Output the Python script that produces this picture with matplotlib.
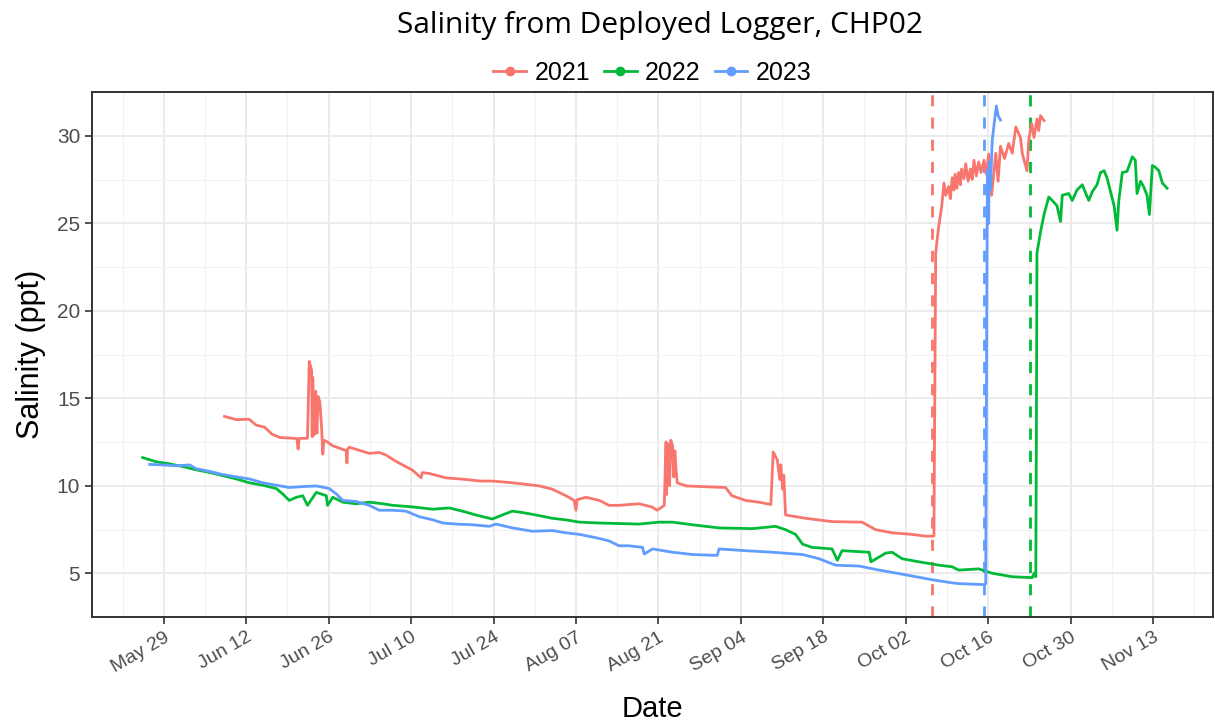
import numpy as np
import pandas as pd
import matplotlib
matplotlib.use("Agg")
from matplotlib import pyplot as plt
from matplotlib.lines import Line2D
from matplotlib import transforms

plt.rcParams['font.family'] = ['Liberation Sans', 'DejaVu Sans']

# days after May 29 (all years drawn on one seasonal axis) and salinity (ppt)
day_2021 = [10.3, 12.3, 14.5, 15.7, 17.1, 18.4, 19.7, 22.6, 22.8, 23.0, 24.4, 24.7, 25.1, 25.2, 25.3, 25.5,
            25.8, 26.0, 26.2, 26.5, 26.8, 27.0, 27.2, 27.8, 28.6, 31.0, 31.1, 31.2, 31.5, 34.9, 36.6, 37.7,
            39.4, 42.2, 43.7, 43.9, 45.1, 47.9, 51.3, 53.6, 55.8, 59.2, 61.5, 63.8, 66.0, 68.3, 69.7, 70.0,
            70.2, 71.7, 74.0, 75.6, 77.3, 80.7, 82.9, 83.8, 85.0, 85.3, 85.4, 85.6, 85.9, 86.1, 86.4, 86.6,
            86.8, 87.0, 87.2, 88.7, 91.4, 95.4, 96.5, 98.8, 101.1, 103.1, 103.5, 104.2, 104.6, 104.8, 105.1,
            105.3, 105.6, 109.0, 113.5, 118.6, 120.9, 123.7, 127.1, 129.4, 130.8, 131.1, 131.6, 132.1, 132.5,
            132.8, 133.3, 133.6, 133.9, 134.2, 134.4, 134.7, 135.0, 135.3, 135.5, 135.9, 136.2, 136.6, 137.0,
            137.3, 137.6, 138.0, 138.4, 138.8, 139.3, 139.7, 140.1, 140.6, 141.3, 141.7, 142.1, 142.8, 143.5,
            144.1, 144.7, 145.5, 145.8, 146.6, 146.9, 147.4, 147.8, 148.3, 148.6, 148.9, 149.5]
sal_2021 = [13.96, 13.78, 13.8, 13.46, 13.35, 12.94, 12.76, 12.7, 12.1, 12.7, 12.72, 17.1, 16.6, 12.8, 16.2, 12.9,
            15.4, 13.0, 15.1, 14.8, 13.3, 11.8, 12.6, 12.5, 12.3, 12.0, 11.3, 12.1, 12.2, 11.85, 11.9, 11.76,
            11.4, 10.9, 10.45, 10.75, 10.7, 10.45, 10.36, 10.27, 10.27, 10.17, 10.08, 9.99, 9.8, 9.43, 9.16, 8.6,
            9.2, 9.34, 9.16, 8.88, 8.88, 8.97, 8.79, 8.6, 8.88, 12.5, 9.5, 12.4, 10.0, 12.6, 12.3, 10.5,
            12.0, 10.9, 10.17, 9.99, 9.95, 9.9, 9.43, 9.16, 9.06, 8.93, 11.93, 11.47, 10.36, 11.2, 9.8,
            10.6, 8.33, 8.14, 7.95, 7.92, 7.49, 7.31, 7.22, 7.12, 7.12, 23.3, 24.8, 25.9, 27.3,
            26.6, 27.1, 26.4, 27.6, 26.9, 27.8, 27.0, 27.9, 27.2, 28.1, 27.55, 28.4, 27.4, 28.1,
            27.5, 28.6, 27.7, 28.5, 27.9, 28.6, 27.8, 28.95, 26.6, 29.0, 27.4, 29.4, 28.7, 29.56,
            29.0, 30.5, 29.9, 29.0, 28.0, 29.76, 30.7, 29.9, 30.96, 30.3, 31.15, 30.87]

day_2022 = [-3.6, -1.3, 1.0, 3.2, 5.5, 7.8, 10.0, 12.3, 14.5, 16.8, 19.1, 20.2, 21.3, 22.5, 23.6, 24.4,
            25.9, 27.6, 27.8, 28.7, 30.4, 32.7, 34.9, 37.2, 38.9, 42.3, 45.7, 48.5, 50.7, 53.0, 55.8, 57.5,
            59.2, 60.9, 63.2, 66.0, 68.3, 70.6, 74.0, 77.3, 80.7, 84.1, 86.4, 89.8, 94.3, 100.0, 103.9, 105.6,
            107.3, 108.5, 110.1, 113.5, 114.4, 115.2, 119.8, 120.1, 122.6, 123.7, 125.4, 128.3, 131.7, 133.9,
            135.0, 138.4, 140.7, 144.1, 147.5, 147.8, 148.1, 148.2, 148.3, 148.9, 149.5, 150.3, 150.9, 151.7,
            152.3, 152.6, 153.7, 154.3, 155.1, 156.0, 156.6, 157.1, 157.7, 158.5, 159.1, 159.7, 160.2, 160.8,
            161.4, 161.9, 162.2, 162.8, 163.6, 164.5, 165.0, 165.3, 165.9, 166.4, 167.0, 167.4, 167.9, 168.4,
            169.0, 169.6, 170.4]
sal_2022 = [11.61, 11.37, 11.25, 11.1, 10.91, 10.76, 10.58, 10.39, 10.17, 10.03, 9.84, 9.53, 9.16, 9.34, 9.43, 8.88,
            9.62, 9.43, 8.88, 9.34, 9.06, 8.97, 9.06, 8.97, 8.88, 8.79, 8.66, 8.73, 8.55, 8.33, 8.1, 8.33,
            8.55, 8.47, 8.33, 8.14, 8.05, 7.92, 7.87, 7.84, 7.81, 7.92, 7.92, 7.77, 7.59, 7.55, 7.68, 7.49,
            7.22, 6.66, 6.48, 6.39, 5.74, 6.29, 6.2, 5.65, 6.15, 6.2, 5.83, 5.65, 5.46, 5.37,
            5.18, 5.25, 5.0, 4.8, 4.75, 5.0, 4.8, 12.8, 23.3, 24.5, 25.5, 26.5, 26.3, 26.0,
            25.1, 26.6, 26.7, 26.3, 26.9, 27.2, 26.7, 26.3, 26.8, 27.2, 27.9, 28.0, 27.6, 26.8,
            26.0, 24.6, 26.3, 27.9, 27.96, 28.8, 28.6, 26.7, 27.4, 27.1, 26.6, 25.5, 28.3, 28.2,
            28.0, 27.3, 27.0]

day_2023 = [-2.4, -0.2, 2.1, 4.4, 5.5, 7.8, 10.0, 12.3, 14.5, 16.8, 19.1, 21.3, 23.6, 25.9, 28.1, 29.3,
            30.4, 32.7, 34.9, 36.6, 38.9, 41.1, 43.4, 45.7, 47.4, 49.6, 52.4, 55.3, 56.4, 59.2, 62.6, 66.0,
            68.3, 70.6, 73.4, 75.6, 77.3, 79.0, 81.3, 81.6, 83.0, 86.4, 89.8, 94.0, 94.3, 98.8, 103.4, 108.5,
            111.3, 114.1, 118.1, 121.5, 126.0, 130.5, 133.9, 135.0, 139.3, 139.6, 139.8, 139.9, 140.1, 140.2,
            140.4, 140.7, 141.0, 141.4, 141.7, 142.1]
sal_2023 = [11.22, 11.19, 11.14, 11.19, 10.97, 10.82, 10.64, 10.51, 10.39, 10.17, 10.03, 9.9, 9.95, 9.99, 9.84, 9.53,
            9.16, 9.1, 8.88, 8.6, 8.6, 8.55, 8.23, 8.05, 7.87, 7.81, 7.77, 7.68, 7.81, 7.59, 7.4, 7.44,
            7.31, 7.22, 7.03, 6.85, 6.57, 6.57, 6.48, 6.1, 6.39, 6.2, 6.07, 6.02, 6.39, 6.29, 6.2, 6.07,
            5.83, 5.46, 5.41, 5.18, 4.91, 4.63, 4.45, 4.41, 4.35, 4.4, 22.5, 28.0, 25.0, 28.5,
            26.9, 29.7, 30.6, 31.7, 31.15, 30.9]

years = ["2021", "2022", "2023"]
event_day = [130.5, 147.1, 139.3]   # dashed lines, one per year
colors = ["#F8766D", "#00BA38", "#619CFF"]

base = pd.Timestamp("2021-05-29")


def to_date(days):
    return base + pd.to_timedelta(np.array(days), unit="D")


fig = plt.figure(figsize=(12.15, 7.21), dpi=100)
ax = fig.add_axes([92 / 1215, 1 - 617 / 721, (1213 - 92) / 1215, (617 - 92) / 721])

series = [(day_2021, sal_2021), (day_2022, sal_2022), (day_2023, sal_2023)]
for (d, s), c in zip(series, colors):
    ax.plot(to_date(d), s, color=c, lw=2.0, zorder=3)
for d, c in zip(event_day, colors):
    ax.axvline(to_date([d])[0], color=c, lw=2, ls=(0, (4, 4)), zorder=2)

ax.set_xlim(to_date([-12.2])[0], to_date([178.2])[0])
ax.set_ylim(3.13, 31.95)

major = pd.date_range("2021-05-29", periods=13, freq="14D")
minor = pd.date_range("2021-05-22", periods=27, freq="7D")
ax.set_xticks(major)
ax.set_xticks(minor, minor=True)
ax.set_xticklabels([m.strftime("%b %d") for m in major], rotation=30, ha="right",
                   rotation_mode="anchor", fontsize=14, color="#4D4D4D")
shift = transforms.ScaledTranslation(-0.05, 0, fig.dpi_scale_trans)
for lab in ax.get_xticklabels():
    lab.set_transform(lab.get_transform() + shift)
ax.set_yticks([5, 10, 15, 20, 25, 30])
ax.set_yticks([2.5 + 5 * i for i in range(7)], minor=True)
ax.tick_params(axis="y", labelsize=15, labelcolor="#4D4D4D")
ax.tick_params(which="major", length=5, width=1.2, color="#333333")
ax.tick_params(which="minor", length=0)

ax.grid(which="major", color="#EBEBEB", lw=1.4, zorder=0)
ax.grid(which="minor", color="#F2F2F2", lw=0.8, zorder=0)
ax.set_axisbelow(True)
for sp in ax.spines.values():
    sp.set_color("#333333")
    sp.set_linewidth(1.4)

ax.set_xlabel("Date", fontsize=21, labelpad=14)
ax.set_ylabel("Salinity (ppt)", fontsize=22, labelpad=8)

handles = [Line2D([0], [0], color=c, lw=2, marker="o", markersize=6) for c in colors]
ax.legend(handles, years, loc="lower center", bbox_to_anchor=(0.5, 1.0), ncol=3, frameon=False,
          fontsize=18, handlelength=1.3, handletextpad=0.35, columnspacing=0.55,
          borderpad=0.3, borderaxespad=0.0)

fig.text(660 / 1215, 1 - 26 / 721, "Salinity from Deployed Logger, CHP02", ha="center", va="center",
         fontsize=21.5, family=["Open Sans", "DejaVu Sans"])

fig.savefig("out.png", dpi=100)
